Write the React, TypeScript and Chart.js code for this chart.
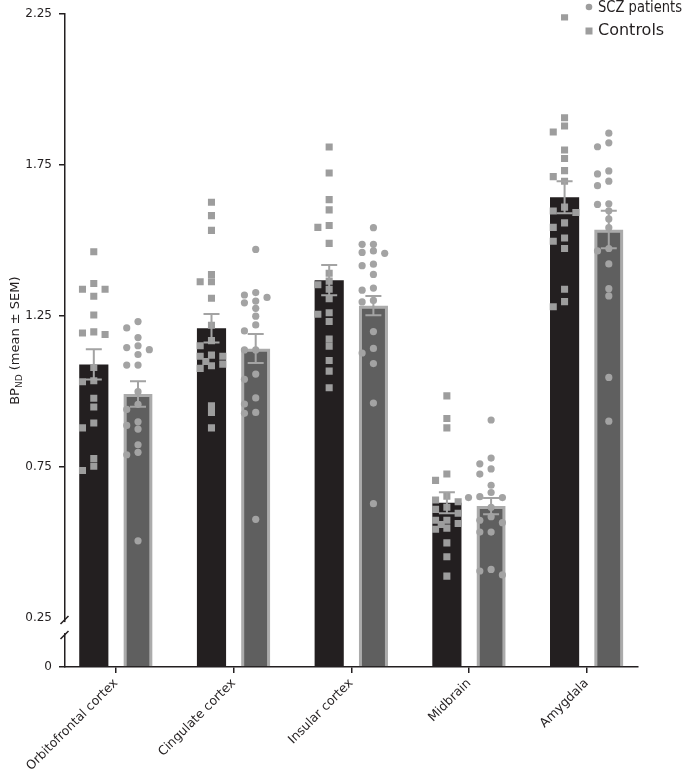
import { useEffect, useRef } from 'react';
import { Chart, registerables } from 'chart.js';

Chart.register(...registerables);

const categories = ['Orbitofrontal cortex', 'Cingulate cortex', 'Insular cortex', 'Midbrain', 'Amygdala'];

const controlMeans = [1.09, 1.21, 1.369, 0.632, 1.644];
const controlSem = [0.05, 0.047, 0.05, 0.035, 0.053];
const sczMeans = [0.992, 1.143, 1.285, 0.621, 1.537];
const sczSem = [0.042, 0.048, 0.032, 0.027, 0.062];

const controlsOrbitofrontal = [1.463, 1.358, 1.339, 1.339, 1.316, 1.254, 1.198, 1.194, 1.189, 1.08, 1.036, 1.033, 0.978, 0.949, 0.896, 0.88, 0.778, 0.753, 0.739];
const sczOrbitofrontal = [1.232, 1.211, 1.179, 1.152, 1.146, 1.139, 1.123, 1.088, 1.088, 1.0, 0.958, 0.941, 0.9, 0.888, 0.876, 0.824, 0.799, 0.791, 0.506];
const controlsCingulate = [1.627, 1.583, 1.534, 1.388, 1.364, 1.364, 1.309, 1.22, 1.169, 1.152, 1.121, 1.117, 1.117, 1.1, 1.091, 1.086, 1.077, 0.953, 0.931, 0.88];
const sczCingulate = [1.471, 1.328, 1.32, 1.312, 1.3, 1.294, 1.276, 1.25, 1.221, 1.201, 1.138, 1.138, 1.058, 1.041, 0.979, 0.959, 0.931, 0.928, 0.577];
const controlsInsular = [1.81, 1.724, 1.636, 1.602, 1.55, 1.544, 1.491, 1.392, 1.366, 1.354, 1.339, 1.308, 1.261, 1.256, 1.232, 1.174, 1.15, 1.103, 1.068, 1.013];
const sczInsular = [1.543, 1.488, 1.488, 1.466, 1.461, 1.458, 1.422, 1.417, 1.388, 1.343, 1.336, 1.302, 1.297, 1.199, 1.143, 1.128, 1.093, 0.962, 0.629];
const controlsMidbrain = [0.986, 0.911, 0.88, 0.727, 0.706, 0.654, 0.641, 0.635, 0.617, 0.61, 0.597, 0.574, 0.574, 0.563, 0.56, 0.548, 0.544, 0.499, 0.453, 0.389];
const sczMidbrain = [0.906, 0.78, 0.761, 0.744, 0.727, 0.69, 0.666, 0.652, 0.649, 0.649, 0.617, 0.586, 0.574, 0.566, 0.535, 0.535, 0.411, 0.406, 0.393];
const controlsAmygdala = [2.241, 1.907, 1.88, 1.86, 1.8, 1.772, 1.732, 1.712, 1.697, 1.611, 1.598, 1.593, 1.559, 1.544, 1.509, 1.498, 1.474, 1.339, 1.298, 1.281];
const sczAmygdala = [1.856, 1.824, 1.811, 1.731, 1.721, 1.697, 1.682, 1.622, 1.62, 1.599, 1.572, 1.543, 1.474, 1.466, 1.423, 1.341, 1.317, 1.047, 0.902];

const controlPoints = [controlsOrbitofrontal, controlsCingulate, controlsInsular, controlsMidbrain, controlsAmygdala];
const sczPoints = [sczOrbitofrontal, sczCingulate, sczInsular, sczMidbrain, sczAmygdala];

const yTickValues = [0, 0.25, 0.75, 1.25, 1.75, 2.25];
const yTickLabels = ['0', '0.25', '0.75', '1.25', '1.75', '2.25'];

// broken axis: 0..0.25 compressed into a short segment
const BREAK = 0.25;
const LOW_SPAN = 0.162;
const t = (v: number) => (v <= BREAK ? (v / BREAK) * LOW_SPAN : LOW_SPAN + v - BREAK);

const X_MIN = -0.4325;
const X_MAX = 4.436;
const SIDE = 0.188;
const STEP = 0.096; // one marker column, in x units
const PX_PER_X = 117.7;
const PX_PER_Y = 302;
const MIN_DIST = 6.6;

const INK = '#231f20';
const POINT_GREY = '#9d9d9d';

function swarm(groups: number[][], side: number) {
  const out: { x: number; y: number }[] = [];
  groups.forEach((vals, cat) => {
    const sorted = [...vals].sort((a, b) => b - a);
    const placed: { o: number; v: number }[] = [];
    for (const v of sorted) {
      for (const o of [0, -1, 1, -0.5, 0.5, -1.5, 1.5, -2, 2]) {
        const hit = placed.some((p) => {
          const dx = (p.o - o) * STEP * PX_PER_X;
          const dy = (p.v - v) * PX_PER_Y;
          return Math.hypot(dx, dy) < MIN_DIST;
        });
        if (!hit) {
          placed.push({ o, v });
          out.push({ x: cat + side + o * STEP, y: t(v) });
          break;
        }
      }
    }
  });
  return out;
}

const errorBars = {
  id: 'errorBars',
  afterDatasetsDraw(chart: any) {
    const { ctx } = chart;
    const ys = chart.scales.y;
    const sets = [
      { idx: 0, means: controlMeans, sems: controlSem },
      { idx: 1, means: sczMeans, sems: sczSem },
    ];
    ctx.save();
    ctx.strokeStyle = '#a3a3a3';
    ctx.lineWidth = 2;
    for (const s of sets) {
      const meta = chart.getDatasetMeta(s.idx);
      meta.data.forEach((bar: any, i: number) => {
        const x = bar.x;
        const top = ys.getPixelForValue(t(s.means[i] + s.sems[i]));
        const bot = ys.getPixelForValue(t(s.means[i] - s.sems[i]));
        ctx.beginPath();
        ctx.moveTo(x, top);
        ctx.lineTo(x, bot);
        ctx.moveTo(x - 8, top);
        ctx.lineTo(x + 8, top);
        ctx.moveTo(x - 8, bot);
        ctx.lineTo(x + 8, bot);
        ctx.stroke();
      });
    }
    ctx.restore();
  },
};

const decorations = {
  id: 'decorations',
  afterDraw(chart: any) {
    const { ctx } = chart;
    const ys = chart.scales.y;
    const axisX = chart.chartArea.left;
    const p25 = ys.getPixelForValue(t(0.25));
    ctx.save();
    // axis break
    ctx.fillStyle = '#ffffff';
    ctx.fillRect(axisX - 3, p25 + 4, 6, 11);
    ctx.strokeStyle = INK;
    ctx.lineWidth = 1.5;
    ctx.beginPath();
    ctx.moveTo(axisX - 4.5, p25 + 6);
    ctx.lineTo(axisX + 3.5, p25 - 2);
    ctx.moveTo(axisX - 4.5, p25 + 21);
    ctx.lineTo(axisX + 3.5, p25 + 13);
    ctx.stroke();

    // legend
    ctx.fillStyle = POINT_GREY;
    ctx.beginPath();
    ctx.arc(589, 7, 3.3, 0, Math.PI * 2);
    ctx.fill();
    ctx.fillRect(585.5, 27.5, 7, 7);
    ctx.fillStyle = INK;
    ctx.font = "16px 'DejaVu Sans'";
    ctx.textBaseline = 'middle';
    ctx.textAlign = 'left';
    ctx.fillText('SCZ patients', 598, 8, 84);
    ctx.fillText('Controls', 598, 31);

    // y-axis title with subscript
    const cy = (chart.chartArea.top + chart.chartArea.bottom) / 2;
    ctx.translate(14, cy);
    ctx.rotate(-Math.PI / 2);
    const big = "13px 'DejaVu Sans'";
    const small = "9px 'DejaVu Sans'";
    ctx.font = big;
    const w1 = ctx.measureText('BP').width;
    const w3 = ctx.measureText(' (mean ± SEM)').width;
    ctx.font = small;
    const w2 = ctx.measureText('ND').width;
    let x0 = -(w1 + w2 + w3) / 2;
    ctx.textBaseline = 'alphabetic';
    ctx.font = big;
    ctx.fillText('BP', x0, 5);
    x0 += w1;
    ctx.font = small;
    ctx.fillText('ND', x0, 8);
    x0 += w2;
    ctx.font = big;
    ctx.fillText(' (mean ± SEM)', x0, 5);
    ctx.restore();
  },
};

export default function App() {
  const ref = useRef<HTMLCanvasElement>(null);
  useEffect(() => {
    Chart.defaults.font.family = "'DejaVu Sans', sans-serif";
    Chart.defaults.color = INK;
    const chart = new Chart(ref.current!, {
      type: 'bar',
      data: {
        datasets: [
          {
            label: 'Controls',
            data: controlMeans.map((m, i) => ({ x: i, y: t(m) })),
            backgroundColor: INK,
            borderWidth: 0,
            order: 3,
          },
          {
            label: 'SCZ patients',
            data: sczMeans.map((m, i) => ({ x: i, y: t(m) })),
            backgroundColor: '#5f5f5f',
            borderColor: '#ababab',
            borderWidth: 3,
            order: 3,
          },
          {
            type: 'scatter',
            label: 'Controls points',
            data: swarm(controlPoints, -SIDE),
            pointStyle: 'rect',
            pointRadius: 5,
            pointBorderWidth: 0,
            backgroundColor: POINT_GREY,
            order: 1,
          } as any,
          {
            type: 'scatter',
            label: 'SCZ points',
            data: swarm(sczPoints, SIDE),
            pointStyle: 'circle',
            pointRadius: 3.6,
            pointBorderWidth: 0,
            backgroundColor: '#a3a3a3',
            order: 1,
          } as any,
        ],
      },
      options: {
        animation: false,
        responsive: true,
        maintainAspectRatio: false,
        datasets: { bar: { categoryPercentage: 0.751, barPercentage: 0.66 } } as any,
        layout: { padding: { top: 14, right: 45, left: 0, bottom: 0 } },
        plugins: { legend: { display: false }, tooltip: { enabled: false } },
        scales: {
          x: {
            type: 'linear',
            min: X_MIN,
            max: X_MAX,
            offset: false,
            afterBuildTicks: (s: any) => {
              s.ticks = categories.map((_, i) => ({ value: i }));
            },
            afterFit: (s: any) => {
              s.height = 103;
            },
            grid: { display: true, offset: false, drawOnChartArea: false, drawTicks: true, tickLength: 6, color: INK, lineWidth: 1.5 },
            border: { display: true, color: INK, width: 1.5 },
            ticks: {
              autoSkip: false,
              maxRotation: 45,
              minRotation: 45,
              padding: 3,
              font: { size: 12.5 },
              color: INK,
              callback: (v: any) => categories[v] ?? '',
            },
          } as any,
          y: {
            type: 'linear',
            min: 0,
            max: t(2.25),
            afterBuildTicks: (s: any) => {
              s.ticks = yTickValues.map((v) => ({ value: t(v) }));
            },
            afterFit: (s: any) => {
              s.width = 65;
            },
            grid: {
              display: true,
              drawOnChartArea: false,
              drawTicks: true,
              tickLength: 6,
              lineWidth: 1.5,
              color: (c: any) => (c.index === 1 ? 'rgba(0,0,0,0)' : INK),
            },
            border: { display: true, color: INK, width: 1.5 },
            ticks: {
              padding: 7,
              font: { size: 12 },
              color: INK,
              callback: (_v: any, i: number) => yTickLabels[i],
            },
          } as any,
        },
      },
      plugins: [errorBars, decorations],
    });
    return () => chart.destroy();
  }, []);
  return (
    <div style={{ position: 'fixed', left: 0, top: 0, width: 683, height: 770 }}>
      <canvas ref={ref} />
    </div>
  );
}
